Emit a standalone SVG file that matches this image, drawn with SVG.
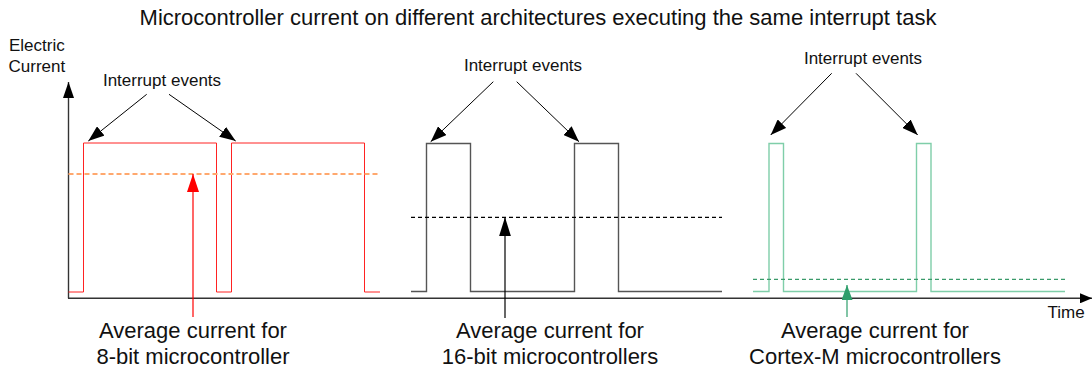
<svg xmlns="http://www.w3.org/2000/svg" width="1092" height="371" viewBox="0 0 1092 371">
<style>
text{font-family:"Liberation Sans",Arial,sans-serif;fill:#111}
.t17{font-size:17px}
.t22{font-size:22px}
.mid{text-anchor:middle}
.ax{stroke:#333;stroke-width:1.4;fill:none}
.ev{stroke:#000;stroke-width:1;fill:none}
.wave{fill:none;stroke-width:1.4}
.dash{fill:none;stroke-width:1.2;stroke-dasharray:4 3}
</style>
<defs>
<marker id="ahBlk" viewBox="0 0 16 12" refX="16" refY="6" markerWidth="16" markerHeight="12" markerUnits="userSpaceOnUse" orient="auto"><path d="M0,0 L16,6 L0,12 z" fill="#000"/></marker>
<marker id="ahAx" viewBox="0 0 16 11" refX="16" refY="5.5" markerWidth="16" markerHeight="11" markerUnits="userSpaceOnUse" orient="auto"><path d="M0,0 L16,5.5 L0,11 z" fill="#000"/></marker>
<marker id="ahAxX" viewBox="0 0 12 10" refX="12" refY="5" markerWidth="12" markerHeight="10" markerUnits="userSpaceOnUse" orient="auto"><path d="M0,0 L12,5 L0,10 z" fill="#000"/></marker>
<marker id="ahRed" viewBox="0 0 18 12" refX="18" refY="6" markerWidth="18" markerHeight="12" markerUnits="userSpaceOnUse" orient="auto"><path d="M0,0 L18,6 L0,12 z" fill="#f00"/></marker>
<marker id="ahBlkUp" viewBox="0 0 19 12" refX="19" refY="6" markerWidth="19" markerHeight="12" markerUnits="userSpaceOnUse" orient="auto"><path d="M0,0 L19,6 L0,12 z" fill="#000"/></marker>
<marker id="ahGrn" viewBox="0 0 15 11" refX="15" refY="5.5" markerWidth="15" markerHeight="11" markerUnits="userSpaceOnUse" orient="auto"><path d="M0,0 L15,5.5 L0,11 z" fill="#2e9e6b"/></marker>
</defs>
<rect width="1092" height="371" fill="#fff"/>

<g id="title"><text class="t22 mid" x="538" y="25">Microcontroller current on different architectures executing the same interrupt task</text></g>

<g id="axes">
<path class="ax" d="M68.5,298.3 V82" marker-end="url(#ahAx)"/>
<path class="ax" d="M68,298.3 H1092" marker-end="url(#ahAxX)"/>
<text class="t17" x="9" y="50.7">Electric</text>
<text class="t17" x="8.5" y="71.7">Current</text>
<text class="t17" x="1047.5" y="318">Time</text>
</g>

<g id="panel-8bit">
<path fill="none" stroke="#f22" stroke-width="1" d="M68.5,292 H83.5 V143 H216.5 V292 H231.5 V143 H364.5 V292 H380"/>
<path fill="none" stroke="#ffa86e" stroke-width="2" stroke-dasharray="5 3" d="M68.5,174 H380"/>
<text class="t17 mid" x="162" y="86">Interrupt events</text>
<text class="t22 mid" x="193" y="337.5">Average current for</text>
<text class="t22 mid" x="193" y="363.5">8-bit microcontroller</text>
</g>

<g id="panel-16bit">
<path class="wave" stroke="#555" d="M411,291.5 H426.5 V143.5 H470.5 V291.5 H574.5 V143.5 H618.5 V291.5 H722"/>
<path class="dash" stroke="#000" d="M411,217.3 H722"/>
<text class="t17 mid" x="523" y="71">Interrupt events</text>
<text class="t22 mid" x="550" y="337.5">Average current for</text>
<text class="t22 mid" x="550" y="363.5">16-bit microcontrollers</text>
</g>

<g id="panel-cortexm">
<path class="wave" stroke="#7fcea9" stroke-width="1.6" d="M753,291.5 H769 V143.5 H783.5 V291.5 H916.5 V143.5 H931 V291.5 H1065"/>
<path class="dash" stroke="#3a9a6a" d="M753,279.3 H1065"/>
<text class="t17 mid" x="863" y="64">Interrupt events</text>
<text class="t22 mid" x="875" y="337.5">Average current for</text>
<text class="t22 mid" x="875" y="363.5">Cortex-M microcontrollers</text>
</g>

<g id="connectors">
<path class="ev" d="M146.7,94.3 L88.3,141" marker-end="url(#ahBlk)"/>
<path class="ev" d="M169,94.3 L235.7,141" marker-end="url(#ahBlk)"/>
<path class="ev" d="M493.3,81.7 L430.7,141.7" marker-end="url(#ahBlk)"/>
<path class="ev" d="M516.7,81.7 L579,141.7" marker-end="url(#ahBlk)"/>
<path class="ev" d="M831.7,73.3 L770.7,135" marker-end="url(#ahBlk)"/>
<path class="ev" d="M856,73.3 L917.7,135" marker-end="url(#ahBlk)"/>
<path d="M193,317 V174" stroke="#f00" stroke-width="1.2" fill="none" marker-end="url(#ahRed)"/>
<path d="M505,318 V217.3" stroke="#000" stroke-width="1.2" fill="none" marker-end="url(#ahBlkUp)"/>
<path d="M847,317 V285" stroke="#2e9e6b" stroke-width="1.2" fill="none" marker-end="url(#ahGrn)"/>
</g>
</svg>
